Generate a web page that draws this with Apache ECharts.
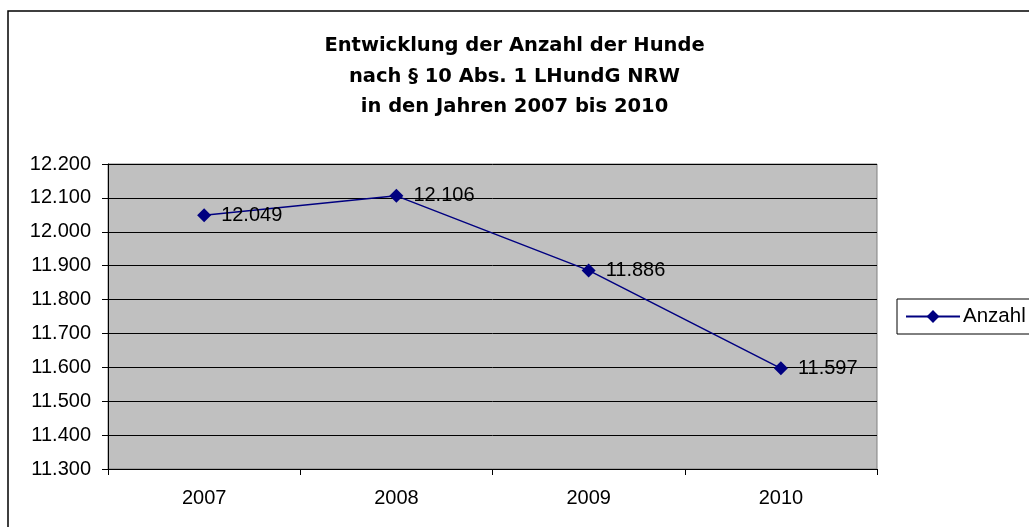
<!DOCTYPE html>
<html><head><meta charset="utf-8">
<script src="https://cdn.jsdelivr.net/npm/echarts@6/dist/echarts.min.js"></script>
<style>html,body{margin:0;padding:0;background:#fff}#c{width:1029px;height:527px}</style>
</head><body><div id="c"></div>
<script>
const titleLines = ['Entwicklung der Anzahl der Hunde', 'nach § 10 Abs. 1 LHundG NRW', 'in den Jahren 2007 bis 2010'];
const categories = ['2007', '2008', '2009', '2010'];
const seriesName = 'Anzahl';
const values = [12049, 12106, 11886, 11597];
const yMin = 11300, yMax = 12200, yStep = 100;

function de(v) { return String(Math.round(v)).replace(/\B(?=(\d{3})+(?!\d))/g, '.'); }

const chart = echarts.init(document.getElementById('c'), null, {renderer: 'canvas'});
chart.setOption({
  backgroundColor: '#fff',
  animation: false,
  title: {
    text: titleLines.join('\n'),
    left: 'center', top: 26,
    textStyle: {fontFamily: 'DejaVu Sans', fontWeight: 'bold', fontSize: 19.5, lineHeight: 30.5, color: '#000'}
  },
  graphic: [{type: 'rect', shape: {x: 8, y: 11, width: 1200, height: 700}, style: {fill: 'none', stroke: '#000', lineWidth: 1.5}, silent: true, z: 100}],
  legend: {
    left: 897, top: 299,
    data: [{name: seriesName, itemStyle: {color: '#000080'}}],
    orient: 'vertical',
    borderColor: '#000', borderWidth: 1,
    padding: [7, 20, 7, 8],
    itemWidth: 54, itemHeight: 16, itemGap: 0,
    textStyle: {fontFamily: 'Liberation Sans', fontSize: 20.5, color: '#000', padding: [0, 0, 0, -2]}
  },
  grid: {left: 108, right: 152, top: 164, bottom: 58, show: true, backgroundColor: '#C0C0C0', borderColor: '#808080', borderWidth: 1},
  xAxis: {
    type: 'category', data: categories, boundaryGap: true,
    axisLine: {lineStyle: {color: '#000', width: 1}},
    axisTick: {show: true, length: 6, lineStyle: {color: '#000'}},
    axisLabel: {fontFamily: 'Liberation Sans', fontSize: 20, color: '#000', margin: 19}
  },
  yAxis: {
    type: 'value', min: yMin, max: yMax, interval: yStep,
    axisLine: {show: true, lineStyle: {color: '#000', width: 1}},
    axisTick: {show: true, length: 6, lineStyle: {color: '#000'}},
    axisLabel: {fontFamily: 'Liberation Sans', fontSize: 20, color: '#000', margin: 17, formatter: v => de(v)},
    splitLine: {show: true, lineStyle: {color: '#000', width: 1}}
  },
  series: [{
    name: seriesName, type: 'line', data: values,
    symbol: 'diamond', symbolSize: 14,
    lineStyle: {color: '#000080', width: 1.5},
    itemStyle: {color: '#000080'},
    label: {show: true, position: 'right', distance: 10, fontFamily: 'Liberation Sans', fontSize: 20, color: '#000', formatter: p => de(p.value)}
  }]
});
</script></body></html>
